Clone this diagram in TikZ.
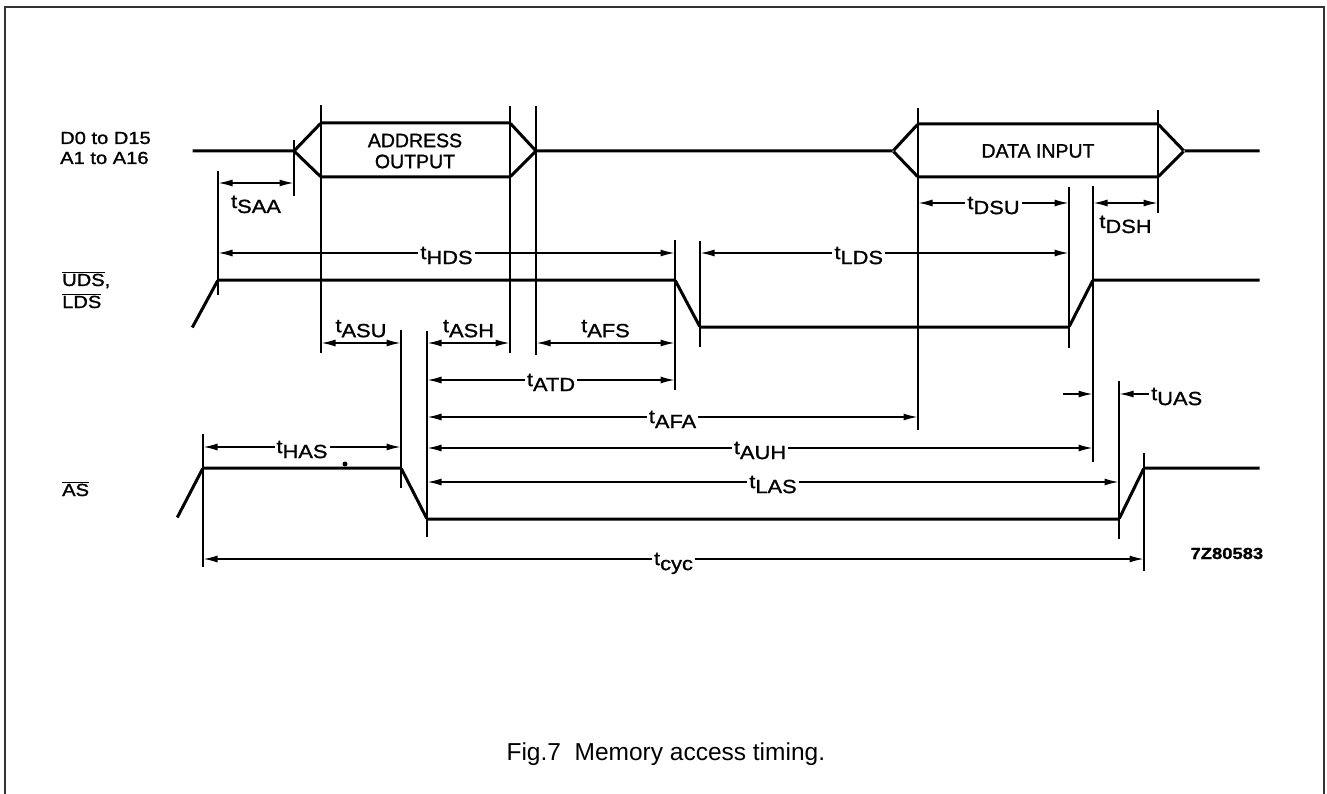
\documentclass[tikz,border=0pt]{standalone}
\usepackage{fontspec}
\setmainfont{Liberation Sans}
\newfontfamily\sigfont{Liberation Sans}[FakeStretch=1.15,FakeBold=1.2]
\newfontfamily\boxfont{Liberation Sans}[FakeBold=1.2]
\usetikzlibrary{arrows.meta}
\pgfdeclarelayer{edgelayer}
\pgfdeclarelayer{nodelayer}
\pgfsetlayers{edgelayer,nodelayer,main}
\tikzstyle{none}=[inner sep=0pt,outer sep=0pt]
\tikzstyle{signal}=[-,line width=3pt,line join=round]
\tikzstyle{marker}=[-,line width=1.4pt]
\tikzstyle{dim}=[{Latex[length=14pt,width=7pt]}-{Latex[length=14pt,width=7pt]},line width=1.4pt]
\tikzstyle{dimto}=[-{Latex[length=14pt,width=7pt]},line width=1.4pt]
\tikzstyle{tlab}=[fill=white,inner sep=2pt,font=\sigfont\fontsize{19}{19}\selectfont]
\tikzstyle{tlabel}=[inner sep=2pt,font=\sigfont\fontsize{19}{19}\selectfont]
\tikzstyle{signame}=[anchor=base west,inner sep=0pt,font=\sigfont\fontsize{17.5}{20}\selectfont]
\tikzstyle{boxlabel}=[align=center,font=\boxfont\fontsize{19.5}{21}\selectfont]
\tikzstyle{frame}=[line width=2pt,draw=black!80]
\newcommand{\tsub}[1]{t\raisebox{-5pt}[0pt][0pt]{#1}}
\newcommand{\ovl}[1]{$\overline{\hbox{#1}}$}
\begin{document}
\begin{tikzpicture}[x=1pt,y=-1pt]
	\useasboundingbox (0,0) rectangle (1327,794);
	\begin{pgfonlayer}{nodelayer}
		% bus
		\node [style=none] (b0) at (192, 151) {};
		\node [style=none] (b1) at (294, 151) {};
		\node [style=none] (b2) at (321, 123) {};
		\node [style=none] (b3) at (510, 123) {};
		\node [style=none] (b4) at (536, 151) {};
		\node [style=none] (b5) at (321, 177) {};
		\node [style=none] (b6) at (510, 177) {};
		\node [style=none] (b7) at (893, 151) {};
		\node [style=none] (b8) at (918, 124) {};
		\node [style=none] (b9) at (1158, 124) {};
		\node [style=none] (b10) at (1184, 151) {};
		\node [style=none] (b11) at (1158, 177) {};
		\node [style=none] (b12) at (918, 177) {};
		\node [style=none] (b13) at (1260, 151) {};
		% UDS, LDS
		\node [style=none] (u0) at (192, 328) {};
		\node [style=none] (u1) at (218, 280) {};
		\node [style=none] (u2) at (675, 280) {};
		\node [style=none] (u3) at (700, 327) {};
		\node [style=none] (u4) at (1069, 327) {};
		\node [style=none] (u5) at (1093, 280) {};
		\node [style=none] (u6) at (1260, 280) {};
		% AS
		\node [style=none] (s0) at (177, 518) {};
		\node [style=none] (s1) at (203, 468) {};
		\node [style=none] (s2) at (401, 468) {};
		\node [style=none] (s3) at (427, 519) {};
		\node [style=none] (s4) at (1119, 519) {};
		\node [style=none] (s5) at (1144, 468) {};
		\node [style=none] (s6) at (1260, 468) {};
		% reference lines
		\node [style=none] (m1t) at (294, 140) {};
		\node [style=none] (m1b) at (294, 197) {};
		\node [style=none] (m2t) at (321, 105) {};
		\node [style=none] (m2b) at (321, 353) {};
		\node [style=none] (m3t) at (510, 106) {};
		\node [style=none] (m3b) at (510, 353) {};
		\node [style=none] (m4t) at (536, 106) {};
		\node [style=none] (m4b) at (536, 355) {};
		\node [style=none] (m5t) at (918, 108) {};
		\node [style=none] (m5b) at (918, 430) {};
		\node [style=none] (m6t) at (1158, 110) {};
		\node [style=none] (m6b) at (1158, 214) {};
		\node [style=none] (m7t) at (1069, 187) {};
		\node [style=none] (m7b) at (1069, 348) {};
		\node [style=none] (m8t) at (1093, 186) {};
		\node [style=none] (m8b) at (1093, 462) {};
		\node [style=none] (m9t) at (218, 171) {};
		\node [style=none] (m9b) at (218, 295) {};
		\node [style=none] (m10t) at (675, 240) {};
		\node [style=none] (m10b) at (675, 390) {};
		\node [style=none] (m11t) at (700, 241) {};
		\node [style=none] (m11b) at (700, 347) {};
		\node [style=none] (m12t) at (203, 433) {};
		\node [style=none] (m12b) at (203, 567) {};
		\node [style=none] (m13t) at (401, 329) {};
		\node [style=none] (m13b) at (401, 488) {};
		\node [style=none] (m14t) at (427, 330) {};
		\node [style=none] (m14b) at (427, 537) {};
		\node [style=none] (m15t) at (1119, 380) {};
		\node [style=none] (m15b) at (1119, 539) {};
		\node [style=none] (m16t) at (1144, 452) {};
		\node [style=none] (m16b) at (1144, 571) {};
		% arrow ends
		\node [style=none] (saa1) at (218, 183) {};
		\node [style=none] (saa2) at (294, 183) {};
		\node [style=none] (hds1) at (218, 253) {};
		\node [style=none] (hds2) at (675, 253) {};
		\node [style=none] (lds1) at (700, 253) {};
		\node [style=none] (lds2) at (1069, 253) {};
		\node [style=none] (dsu1) at (918, 203) {};
		\node [style=none] (dsu2) at (1069, 203) {};
		\node [style=none] (dsh1) at (1093, 203) {};
		\node [style=none] (dsh2) at (1158, 203) {};
		\node [style=none] (asu1) at (321, 343) {};
		\node [style=none] (asu2) at (401, 343) {};
		\node [style=none] (ash1) at (427, 343) {};
		\node [style=none] (ash2) at (510, 343) {};
		\node [style=none] (afs1) at (536, 343) {};
		\node [style=none] (afs2) at (675, 343) {};
		\node [style=none] (atd1) at (427, 380) {};
		\node [style=none] (atd2) at (675, 380) {};
		\node [style=none] (afa1) at (427, 417) {};
		\node [style=none] (afa2) at (918, 417) {};
		\node [style=none] (auh1) at (427, 448) {};
		\node [style=none] (auh2) at (1093, 448) {};
		\node [style=none] (las1) at (427, 482) {};
		\node [style=none] (las2) at (1119, 482) {};
		\node [style=none] (has1) at (203, 447) {};
		\node [style=none] (has2) at (401, 447) {};
		\node [style=none] (cyc1) at (203, 559) {};
		\node [style=none] (cyc2) at (1144, 559) {};
		\node [style=none] (uas1) at (1062, 394) {};
		\node [style=none] (uas2) at (1093, 394) {};
		\node [style=none] (uas3) at (1119, 394) {};
		\node [style=tlab, anchor=west] (luas) at (1149, 394) {\tsub{UAS}};
		% texts
		\node [style=signame] (dname) at (60, 144) {D0 to D15};
		\node [style=signame] (aname) at (60, 164) {A1 to A16};
		\node [style=signame] (udsname) at (62, 286) {\ovl{UDS},};
		\node [style=signame] (ldsname) at (62, 308) {\ovl{LDS}};
		\node [style=signame] (asname) at (62, 496) {\ovl{AS}};
		\node [style=boxlabel] (addr) at (415, 151) {ADDRESS\\OUTPUT};
		\node [style=boxlabel] (data) at (1038, 151) {DATA INPUT};
		\node [anchor=base west, font=\sigfont\bfseries\fontsize{16}{16}\selectfont] (code) at (1187, 559) {7Z80583};
		\node [anchor=base west, font=\fontsize{24.5}{26}\selectfont] (caption) at (503, 760) {Fig.7\ \ Memory access timing.};
		\fill (345, 464) circle (2.5pt);
	\end{pgfonlayer}
	\begin{pgfonlayer}{edgelayer}
		\draw [style=frame] (5, 794) -- (5, 7) -- (1324, 7) -- (1324, 794);
		\draw [style=signal] (b0) -- (b1) -- (b2) -- (b3) -- (b4) -- (b7) -- (b8) -- (b9) -- (b10) -- (b13);
		\draw [style=signal] (b1) -- (b5) -- (b6) -- (b4);
		\draw [style=signal] (b7) -- (b12) -- (b11) -- (b10);
		\draw [style=signal] (u0) -- (u1) -- (u2) -- (u3) -- (u4) -- (u5) -- (u6);
		\draw [style=signal] (s0) -- (s1) -- (s2) -- (s3) -- (s4) -- (s5) -- (s6);
		\draw [style=marker] (m1t) to (m1b);
		\draw [style=marker] (m2t) to (m2b);
		\draw [style=marker] (m3t) to (m3b);
		\draw [style=marker] (m4t) to (m4b);
		\draw [style=marker] (m5t) to (m5b);
		\draw [style=marker] (m6t) to (m6b);
		\draw [style=marker] (m7t) to (m7b);
		\draw [style=marker] (m8t) to (m8b);
		\draw [style=marker] (m9t) to (m9b);
		\draw [style=marker] (m10t) to (m10b);
		\draw [style=marker] (m11t) to (m11b);
		\draw [style=marker] (m12t) to (m12b);
		\draw [style=marker] (m13t) to (m13b);
		\draw [style=marker] (m14t) to (m14b);
		\draw [style=marker] (m15t) to (m15b);
		\draw [style=marker] (m16t) to (m16b);
	\end{pgfonlayer}
	\draw [style=dim] (saa1) to node [style=tlabel, below=10pt] {\tsub{SAA}} (saa2);
	\draw [style=dim] (hds1) to node [style=tlab] {\tsub{HDS}} (hds2);
	\draw [style=dim] (lds1) to node [style=tlab, pos=.43] {\tsub{LDS}} (lds2);
	\draw [style=dim] (dsu1) to node [style=tlab] {\tsub{DSU}} (dsu2);
	\draw [style=dim] (dsh1) to node [style=tlabel, below=10pt] {\tsub{DSH}} (dsh2);
	\draw [style=dim] (asu1) to node [style=tlabel, above=8pt] {\tsub{ASU}} (asu2);
	\draw [style=dim] (ash1) to node [style=tlabel, above=8pt] {\tsub{ASH}} (ash2);
	\draw [style=dim] (afs1) to node [style=tlabel, above=8pt] {\tsub{AFS}} (afs2);
	\draw [style=dim] (atd1) to node [style=tlab] {\tsub{ATD}} (atd2);
	\draw [style=dim] (afa1) to node [style=tlab] {\tsub{AFA}} (afa2);
	\draw [style=dim] (auh1) to node [style=tlab] {\tsub{AUH}} (auh2);
	\draw [style=dim] (las1) to node [style=tlab] {\tsub{LAS}} (las2);
	\draw [style=dim] (has1) to node [style=tlab] {\tsub{HAS}} (has2);
	\draw [style=dim] (cyc1) to node [style=tlab] {\tsub{cyc}} (cyc2);
	\draw [style=dimto] (uas1) to (uas2);
	\draw [style=dimto] (luas.west) to (uas3);
\end{tikzpicture}
\end{document}
